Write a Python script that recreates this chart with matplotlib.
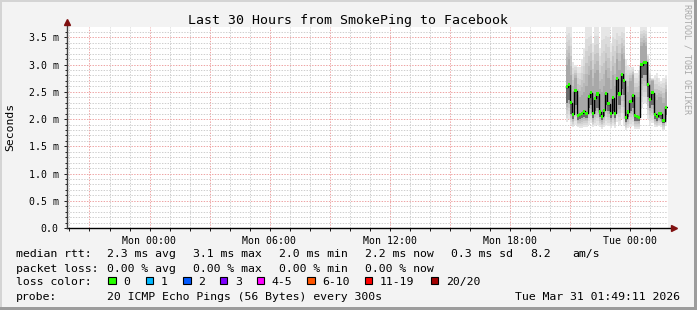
import numpy as np
import matplotlib.pyplot as plt
from matplotlib.patches import Rectangle

plt.rcParams['font.family'] = ['DejaVu Sans Mono', 'DejaVu Sans']

W, H = 697, 310

# hours after Mon 00:00, one value per step
t_start = 20.8
t_step = 0.11
median_ms = [2.59, 2.63, 2.30, 2.09, 2.52, 2.07, 2.09, 2.11, 2.14, 2.11,
             2.41, 2.48, 2.11, 2.38, 2.46, 2.13, 2.05, 2.16, 2.47, 2.28,
             2.11, 2.39, 2.11, 2.74, 2.46, 2.82, 2.70, 2.02, 2.13, 2.33,
             2.44, 2.06, 2.05, 2.03, 3.00, 3.04, 3.04, 2.63, 2.36, 2.48,
             2.09, 2.05, 2.11, 2.10, 1.97, 2.22]
smoke_max = [3.69, 3.69, 3.69, 3.05, 3.00, 2.95, 2.95, 3.10, 3.30, 3.69,
             3.69, 3.69, 3.40, 3.69, 3.69, 3.30, 3.69, 3.69, 3.69, 3.69,
             3.40, 3.69, 3.69, 3.69, 3.69, 3.69, 3.69, 3.10, 3.00, 2.95,
             2.95, 2.85, 2.85, 2.90, 3.69, 3.69, 3.69, 3.20, 2.90, 2.75,
             2.80, 2.85, 2.75, 2.70, 2.75, 2.80]
smoke_hi = [3.00, 3.10, 2.80, 2.50, 2.75, 2.45, 2.40, 2.45, 2.50, 2.60,
            2.80, 2.90, 2.60, 2.85, 2.90, 2.55, 2.50, 2.60, 2.90, 2.75,
            2.55, 2.80, 2.60, 3.10, 2.90, 3.20, 3.10, 2.45, 2.50, 2.70,
            2.80, 2.40, 2.40, 2.40, 3.35, 3.40, 3.35, 2.95, 2.65, 2.70,
            2.40, 2.35, 2.40, 2.40, 2.30, 2.50]
smoke_lo = [2.30, 2.35, 2.10, 2.00, 2.25, 1.99, 2.00, 2.02, 2.04, 2.02,
            2.20, 2.25, 2.02, 2.15, 2.20, 2.04, 1.98, 2.06, 2.25, 2.14,
            2.02, 2.15, 2.02, 2.45, 2.25, 2.55, 2.45, 1.95, 2.03, 2.15,
            2.20, 1.97, 1.97, 1.96, 2.75, 2.80, 2.80, 2.40, 2.20, 2.25,
            2.00, 1.97, 2.02, 2.01, 1.92, 2.08]
smoke_min = [1.95, 2.00, 1.90, 1.85, 1.90, 1.85, 1.84, 1.84, 1.85, 1.86,
             1.90, 1.92, 1.85, 1.88, 1.90, 1.85, 1.82, 1.85, 1.90, 1.87,
             1.84, 1.87, 1.84, 1.95, 1.90, 2.00, 1.90, 1.80, 1.83, 1.86,
             1.88, 1.82, 1.82, 1.82, 2.20, 2.30, 2.30, 2.00, 1.90, 1.92,
             1.86, 1.85, 1.87, 1.86, 1.80, 1.90]

x_label_ticks = [0, 6, 12, 18, 24]
x_labels = ['Mon 00:00', 'Mon 06:00', 'Mon 12:00', 'Mon 18:00', 'Tue 00:00']
y_ticks = [0.0, 0.5, 1.0, 1.5, 2.0, 2.5, 3.0, 3.5]
y_labels = ['0.0', '0.5 m', '1.0 m', '1.5 m', '2.0 m', '2.5 m', '3.0 m', '3.5 m']

rtt_values = ['2.3', '3.1', '2.0', '2.2', '0.3']
rtt_names = ['avg', 'max', 'min', 'now', 'sd']
loss_values = ['0.00', '0.00', '0.00', '0.00']
loss_names = ['avg', 'max', 'min', 'now']
loss_classes = ['0', '1', '2', '3', '4-5', '6-10', '11-19', '20/20']
loss_colors = ['#26ff00', '#00b8ff', '#0059ff', '#7e00ff', '#ff00ff',
               '#ff5500', '#ff0000', '#a10000']


def fx(x):
    return x / W


def fy(y):
    return 1 - y / H


fig = plt.figure(figsize=(W / 100, H / 100), dpi=100, facecolor='#f3f3f3')

# 3d frame
fig.add_artist(Rectangle((0, fy(2)), 1, 2 / H, transform=fig.transFigure, color='#d4d4d4', lw=0))
fig.add_artist(Rectangle((0, 0), fx(2), 1, transform=fig.transFigure, color='#d4d4d4', lw=0))
fig.add_artist(Rectangle((0, 0), 1, 3 / H, transform=fig.transFigure, color='#9c9c9c', lw=0))
fig.add_artist(Rectangle((fx(W - 3), 0), 3 / W, 1, transform=fig.transFigure, color='#9c9c9c', lw=0))

ax = fig.add_axes([fx(67), fy(228), 601 / W, 201 / H])
ax.set_facecolor('white')
ax.set_xlim(-4.125, 25.925)
ax.set_ylim(0, 3.69)

n = len(median_ms)
t = t_start + t_step * np.arange(n + 1)
med = np.append(median_ms, median_ms[-1])
smax = np.append(smoke_max, smoke_max[-1])
shi = np.append(smoke_hi, smoke_hi[-1])
slo = np.append(smoke_lo, smoke_lo[-1])
smin = np.append(smoke_min, smoke_min[-1])

# smoke, lighter outside, darker towards the median
shades = [0.90, 0.86, 0.82, 0.77, 0.72, 0.66]
for i, g in enumerate(shades):
    f = i / (len(shades) - 1)
    lo = smin + f * (slo - smin)
    hi = smax + f * (shi - smax)
    ax.fill_between(t, lo, hi, step='post', color=str(g), lw=0, zorder=2)
ax.fill_between(t, slo, med, step='post', color='0.42', lw=0, zorder=2)

ax.step(t, med, where='post', color='black', lw=1.0, zorder=3)
sw = 0.028
ax.fill_between(t, med - sw, med + sw, step='post', color=loss_colors[0], lw=0, zorder=4)

# grid
ax.set_xticks(np.arange(-3, 26, 3))
ax.set_xticklabels([x_labels[x_label_ticks.index(v)] if v in x_label_ticks else '' for v in range(-3, 26, 3)])
ax.set_xticks(np.arange(-4, 26, 1), minor=True)
ax.set_yticks(y_ticks)
ax.set_yticklabels(y_labels)
ax.set_yticks(np.arange(0, 3.65, 0.1), minor=True)
ax.set_axisbelow(True)
ax.grid(which='minor', color='#cfcfcf', lw=0.72, ls=(0, (1.39, 1.39)))
ax.grid(which='major', color='#eea4a4', lw=0.72, ls=(0, (1.39, 1.39)))
ax.tick_params(which='both', labelsize=7.1, colors='#222222', labelcolor='black', width=0.72)
ax.tick_params(axis='x', which='major', length=2.5, pad=3)
ax.tick_params(axis='x', which='minor', length=2)
ax.tick_params(axis='y', which='major', length=2.5, pad=3.5)
ax.tick_params(axis='y', which='minor', length=1.5)
for s in ax.spines.values():
    s.set_visible(False)

# axes with arrows
ax.plot([-4.125, 26.1], [0, 0], color='black', lw=1.0, clip_on=False, zorder=5)
ax.plot([-4.125, -4.125], [0, 3.78], color='#404040', lw=1.0, clip_on=False, zorder=5)
ax.plot([26.2], [0], marker='>', ms=5, color='#801010', clip_on=False, zorder=6)
ax.plot([-4.125], [3.78], marker='^', ms=5, color='#801010', clip_on=False, zorder=6)

fig.text(fx(348.5), fy(24), 'Last 30 Hours from SmokePing to Facebook',
         ha='center', va='baseline', fontsize=9.5)
fig.text(fx(10.5), fy(127), 'Seconds', rotation=90, ha='center', va='center', fontsize=8.2)
fig.text(fx(686.5), fy(59), 'RRDTOOL / TOBI OETIKER', rotation=270,
         ha='center', va='center', fontsize=6, color='#a8a8a8')

fs = 8.25
cols = [107.3, 193.3, 279.3, 365, 451]
fig.text(fx(16), fy(257.3), 'median rtt:', va='baseline', fontsize=fs)
for x, v, nm in zip(cols, rtt_values, rtt_names):
    fig.text(fx(x), fy(257.3), f'{v} ms {nm}', va='baseline', fontsize=fs)
fig.text(fx(530), fy(257.3), '8.2', va='baseline', fontsize=fs)
fig.text(fx(572.7), fy(257.3), 'am/s', va='baseline', fontsize=fs)

fig.text(fx(16), fy(271.7), 'packet loss:', va='baseline', fontsize=fs)
for x, v, nm in zip(cols, loss_values, loss_names):
    fig.text(fx(x), fy(271.7), f'{v} % {nm}', va='baseline', fontsize=fs)

fig.text(fx(16), fy(285.3), 'loss color:', va='baseline', fontsize=fs)
box_x = [108.3, 145.7, 183.2, 219.8, 256.7, 307.2, 365, 430.7]
for x, lab, c in zip(box_x, loss_classes, loss_colors):
    fig.add_artist(Rectangle((fx(x), fy(284.3)), 7.4 / W, 7.6 / H, transform=fig.transFigure,
                             facecolor=c, edgecolor='black', lw=0.8))
    fig.text(fx(x + 15), fy(285.3), lab, va='baseline', fontsize=fs)

fig.text(fx(16), fy(299.5), 'probe:', va='baseline', fontsize=fs)
fig.text(fx(107.3), fy(299.5), '20 ICMP Echo Pings (56 Bytes) every 300s', va='baseline', fontsize=fs)
fig.text(fx(680), fy(299.5), 'Tue Mar 31 01:49:11 2026', ha='right', va='baseline', fontsize=fs)

fig.savefig('out.png', dpi=100, facecolor=fig.get_facecolor())
